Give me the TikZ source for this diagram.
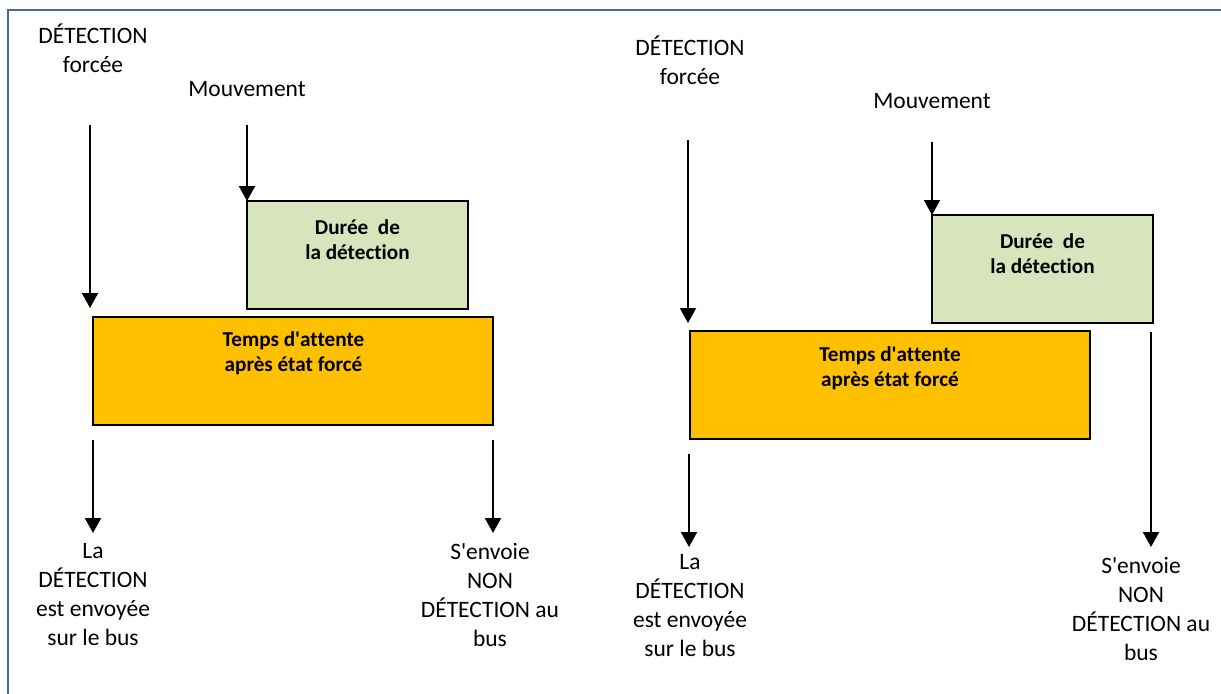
\documentclass[tikz,border=0pt]{standalone}
\usepackage{fontspec}
\setmainfont{Carlito}[Ligatures=CommonOff]
\usetikzlibrary{arrows.meta}
\definecolor{framecol}{RGB}{68,104,160}
\definecolor{orangefill}{RGB}{255,192,0}
\definecolor{greenfill}{RGB}{216,228,188}

\begin{document}
\begin{tikzpicture}[x=0.5pt,y=-0.5pt,
  lbl/.style={font=\fontsize{11.75}{14.5}\selectfont, align=center, inner sep=0pt},
  boxlbl/.style={font=\bfseries\fontsize{10.6}{12.5}\selectfont, align=center, inner sep=0pt},
  panel/.style={draw=black, line width=1pt, inner sep=0pt, outer sep=0pt, anchor=north west},
  greenbox/.style={panel, fill=greenfill, minimum width=110.5pt, minimum height=54pt},
  orangebox/.style={panel, fill=orangefill, minimum width=200pt, minimum height=54pt},
  arr/.style={-{Triangle[width=8pt,length=7.5pt]}, line width=1pt}
]
\clip (0,0) rectangle (1221,693);
\fill[white] (0,0) rectangle (1221,693);
% outer frame (only top and left edges fall inside the page)
\draw[framecol, line width=1.2pt] (8,10) rectangle (1260,740);

% ---------- left timing chart ----------
\node[lbl] (forceA) at (93,48) {DÉTECTION\\forcée};
\node[lbl] (mouvA) at (247,89) {Mouvement};
\node[greenbox] (durA) at (247,201) {};
\node[orangebox] (attA) at (93,317) {};
\node[boxlbl] (durAtxt) at (357.5,240) {Durée\ \ de\\la détection};
\node[boxlbl] (attAtxt) at (293.5,353) {Temps d\textquotesingle attente\\après état forcé};
\node[lbl] (sendA) at (93,595) {La\\DÉTECTION\\est envoyée\\sur le bus};
\node[lbl] (nonA) at (490,595) {S\textquotesingle envoie\\NON\\DÉTECTION au\\bus};

\coordinate (fA1) at (90,125);
\coordinate (fA2) at (90,308);
\coordinate (mA1) at (247,125);
\coordinate (sA1) at (93,440);
\coordinate (sA2) at (93,533);
\coordinate (nA1) at (493,440);
\coordinate (nA2) at (493,533);
\draw[arr] (fA1) -- (fA2);
\draw[arr] (mA1) -- (durA.north west);
\draw[arr] (sA1) -- (sA2);
\draw[arr] (nA1) -- (nA2);

% ---------- right timing chart ----------
\node[lbl] (forceB) at (690,60) {DÉTECTION\\forcée};
\node[lbl] (mouvB) at (932,101) {Mouvement};
\node[greenbox] (durB) at (932,215) {};
\node[orangebox] (attB) at (690,331) {};
\node[boxlbl] (durBtxt) at (1042.5,254) {Durée\ \ de\\la détection};
\node[boxlbl] (attBtxt) at (890,368) {Temps d\textquotesingle attente\\après état forcé};
\node[lbl] (sendB) at (690,606) {La\\DÉTECTION\\est envoyée\\sur le bus};
\node[lbl] (nonB) at (1141,609) {S\textquotesingle envoie\\NON\\DÉTECTION au\\bus};

\coordinate (fB1) at (688,140);
\coordinate (fB2) at (688,323);
\coordinate (mB1) at (932,142);
\coordinate (sB1) at (689,454);
\coordinate (sB2) at (689,547);
\coordinate (nB1) at (1151,332);
\coordinate (nB2) at (1151,547);
\draw[arr] (fB1) -- (fB2);
\draw[arr] (mB1) -- (durB.north west);
\draw[arr] (sB1) -- (sB2);
\draw[arr] (nB1) -- (nB2);
\end{tikzpicture}
\end{document}
